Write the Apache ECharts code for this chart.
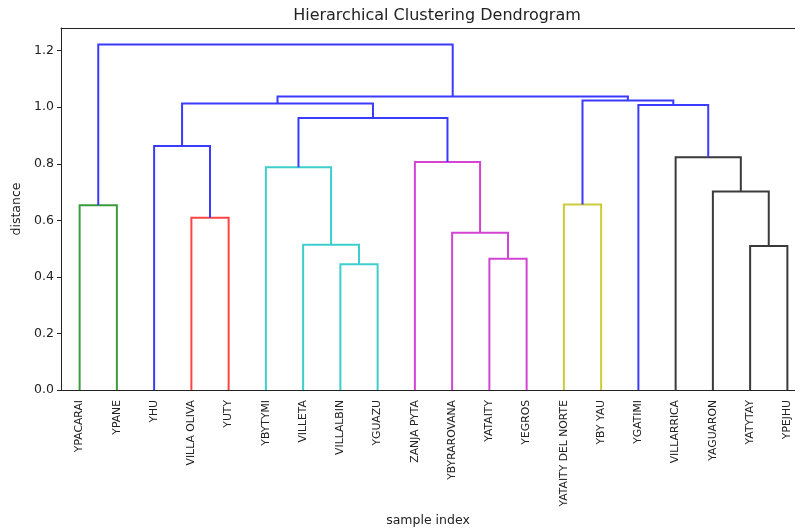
<!DOCTYPE html>
<html>
<head>
<meta charset="utf-8">
<script src="https://cdn.jsdelivr.net/npm/echarts@6/dist/echarts.min.js"></script>
<style>
  html, body { margin: 0; padding: 0; background: #fff; }
  #chart { width: 795px; height: 528px; }
</style>
</head>
<body>
<div id="chart"></div>
<script>
// Leaves in dendrogram order (left to right)
const leafNames = [
  'YPACARAI', 'YPANE', 'YHU', 'VILLA OLIVA', 'YUTY', 'YBYTYMI', 'VILLETA',
  'VILLALBIN', 'YGUAZU', 'ZANJA PYTA', 'YBYRAROVANA', 'YATAITY', 'YEGROS',
  'YATAITY DEL NORTE', 'YBY YAU', 'YGATIMI', 'VILLARRICA', 'YAGUARON',
  'YATYTAY', 'YPEJHU'
];

// Linkage rows: cluster 20 + k joins mergeA[k] and mergeB[k] at mergeDist[k]
const mergeA    = [7,     11,    18,    6,     10,    3,     0,     13,    17,    5,     9,     16,    2,     29,    15,    32,    27,    35,    26];
const mergeB    = [8,     12,    19,    20,    21,    4,     1,     14,    22,    23,    24,    28,    25,    30,    31,    33,    34,    36,    37];
const mergeDist = [0.445, 0.464, 0.509, 0.514, 0.556, 0.609, 0.653, 0.656, 0.702, 0.788, 0.806, 0.823, 0.863, 0.962, 1.008, 1.013, 1.024, 1.038, 1.222];
const mergeColor = ['c', 'm', 'k', 'c', 'm', 'r', 'g', 'y', 'k', 'c', 'm', 'k', 'b', 'b', 'b', 'b', 'b', 'b', 'b'];

const yTicks = [0, 0.2, 0.4, 0.6, 0.8, 1.0, 1.2];

const palette = {
  b: '#3b3bff', g: '#3c9c3c', r: '#ff4444', c: '#3ecece',
  m: '#d444d4', y: '#cccc3a', k: '#3a3a3a'
};

// Node positions: leaves sit at 5, 15, 25, ...; clusters at the mean of their children
const n = leafNames.length;
const leafX = leafNames.map((_, i) => 5 + 10 * i);
const nodeX = leafX.slice();
const nodeH = leafNames.map(() => 0);
const series = [];
mergeA.forEach((a, k) => {
  const b = mergeB[k];
  const d = mergeDist[k];
  series.push({
    type: 'line',
    symbol: 'none',
    silent: true,
    animation: false,
    clip: true,
    lineStyle: { color: palette[mergeColor[k]], width: 2, join: 'miter', cap: 'butt' },
    data: [[nodeX[a], nodeH[a]], [nodeX[a], d], [nodeX[b], d], [nodeX[b], nodeH[b]]]
  });
  nodeX[n + k] = (nodeX[a] + nodeX[b]) / 2;
  nodeH[n + k] = d;
});

// The full frame spans 0..200 over 745px, but only 734px fit in the window,
// so the visible x range stops a little short of 200.
const plotLeft = 61, frameWidth = 745, viewWidth = 795;
const xVisibleMax = 200 * (viewWidth - plotLeft) / frameWidth;

const font = 'DejaVu Sans';
const axisColor = '#222';
const chart = echarts.init(document.getElementById('chart'), null, { renderer: 'canvas' });
chart.setOption({
  backgroundColor: '#fff',
  animation: false,
  title: {
    text: 'Hierarchical Clustering Dendrogram',
    left: 432, textAlign: 'center', top: 3,
    textStyle: { fontFamily: font, fontSize: 16, fontWeight: 'normal', color: axisColor }
  },
  grid: {
    left: plotLeft, right: 0, top: 28, bottom: 138,
    containLabel: false, outerBoundsMode: 'none'
  },
  xAxis: [
    {
      type: 'value',
      min: 0, max: xVisibleMax,
      position: 'bottom',
      name: 'sample index',
      nameLocation: 'middle',
      nameGap: 118,
      nameTextStyle: { fontFamily: font, fontSize: 12.5, color: axisColor },
      axisLine: { show: true, onZero: false, lineStyle: { color: axisColor, width: 1 } },
      axisTick: { show: false },
      splitLine: { show: false },
      axisLabel: {
        customValues: leafX,
        rotate: 90, margin: 10,
        fontFamily: font, fontSize: 10.8, color: axisColor,
        formatter: v => leafNames[Math.round((v - 5) / 10)]
      }
    },
    {
      type: 'value',
      min: 0, max: xVisibleMax,
      position: 'top',
      axisLine: { show: true, onZero: false, lineStyle: { color: axisColor, width: 1 } },
      axisTick: { show: false },
      axisLabel: { show: false },
      splitLine: { show: false }
    }
  ],
  yAxis: {
    type: 'value',
    min: 0, max: 1.28,
    name: 'distance',
    nameLocation: 'middle',
    nameGap: 34,
    nameTextStyle: { fontFamily: font, fontSize: 12.5, color: axisColor },
    axisLine: { show: true, lineStyle: { color: axisColor, width: 1 } },
    axisTick: { show: true, length: 4, customValues: yTicks, lineStyle: { color: axisColor } },
    splitLine: { show: false },
    axisLabel: {
      customValues: yTicks,
      margin: 7,
      fontFamily: font, fontSize: 12.5, color: axisColor,
      formatter: v => v.toFixed(1)
    }
  },
  series: series
});
</script>
</body>
</html>
